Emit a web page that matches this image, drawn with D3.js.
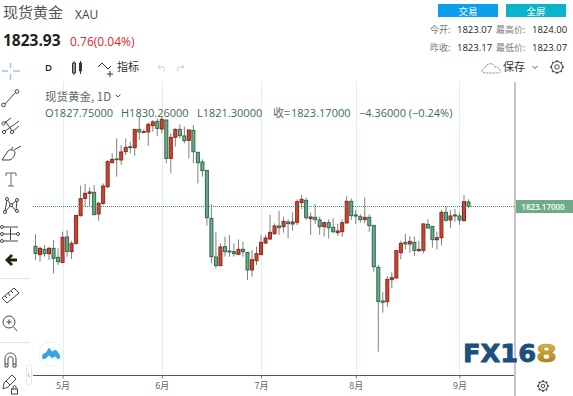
<!DOCTYPE html>
<html>
<head>
<meta charset="utf-8">
<script src="https://cdn.jsdelivr.net/npm/d3@7.9.0/dist/d3.min.js"></script>
<style>
  html, body { margin: 0; padding: 0; background: #fff; overflow: hidden; }
  svg { display: block; }
  text { font-family: "Open Sans", "Noto Sans CJK SC", sans-serif; }
  .cjk { font-family: "Noto Sans CJK SC", sans-serif; }
</style>
</head>
<body>
<svg id="chart" width="573" height="396"></svg>
<script>
// daily candles, colour follows close vs open (red = up)
const opens = [1783.3,1775.0,1780.3,1776.0,1781.3,1772.3,1767.3,1792.7,1778.0,1786.3,1814.0,1831.3,1836.3,1837.3,1815.7,1826.3,1843.0,1867.0,1870.7,1869.7,1878.0,1883.0,1882.0,1900.3,1897.3,1897.7,1904.0,1908.3,1900.7,1909.7,1871.3,1892.3,1900.3,1893.7,1889.3,1899.3,1877.3,1867.7,1859.3,1811.3,1772.7,1764.0,1783.0,1778.7,1778.0,1775.3,1780.3,1777.3,1759.7,1769.0,1775.0,1786.7,1790.7,1796.0,1803.7,1803.0,1807.7,1805.7,1807.3,1827.0,1829.3,1811.0,1812.3,1809.7,1803.0,1807.0,1802.3,1797.0,1798.0,1806.7,1828.3,1814.7,1813.0,1810.0,1812.3,1804.3,1762.3,1728.7,1728.0,1750.0,1751.7,1777.0,1787.3,1785.7,1787.3,1779.0,1779.3,1805.3,1803.3,1790.0,1792.0,1817.3,1809.7,1814.7,1813.7,1809.0,1827.75];
const highs = [1795.3,1783.0,1784.7,1783.0,1789.7,1781.3,1798.0,1799.7,1789.0,1814.3,1843.7,1845.7,1842.3,1844.7,1828.0,1846.3,1869.7,1876.3,1891.3,1884.7,1891.3,1888.0,1900.3,1913.0,1900.3,1907.0,1909.7,1911.3,1913.0,1909.7,1896.3,1901.3,1905.3,1903.0,1900.3,1904.7,1878.0,1870.3,1859.3,1825.3,1798.0,1786.3,1793.0,1794.7,1786.3,1790.3,1788.0,1777.3,1779.7,1783.0,1794.7,1794.7,1814.7,1806.3,1819.0,1813.0,1810.3,1817.3,1830.3,1834.7,1832.3,1817.3,1825.7,1813.0,1808.0,1810.3,1811.3,1805.7,1810.3,1833.7,1831.3,1819.7,1815.7,1832.3,1815.3,1804.3,1764.7,1737.7,1753.7,1757.3,1779.7,1789.0,1795.7,1793.7,1793.0,1788.7,1806.3,1810.3,1803.7,1798.0,1819.7,1823.7,1819.7,1820.7,1817.0,1834.7,1830.26];
const lows = [1769.7,1768.0,1773.0,1769.7,1756.3,1764.7,1766.3,1773.0,1770.7,1784.7,1813.0,1823.0,1823.0,1814.7,1809.0,1824.7,1841.3,1866.3,1853.0,1864.7,1874.7,1876.3,1874.0,1889.7,1896.3,1883.7,1898.0,1893.7,1896.3,1866.3,1856.3,1883.0,1891.3,1886.3,1871.3,1866.3,1846.3,1853.0,1804.0,1766.3,1761.3,1763.7,1773.0,1773.0,1773.0,1774.7,1773.0,1749.7,1753.0,1764.7,1774.7,1785.3,1789.7,1794.7,1794.7,1797.0,1791.3,1799.0,1804.7,1820.7,1809.7,1794.7,1805.7,1794.7,1793.0,1791.0,1796.3,1793.7,1793.0,1806.3,1809.7,1805.7,1807.0,1806.3,1798.0,1758.0,1678.0,1717.0,1723.0,1741.3,1751.3,1770.3,1780.3,1777.0,1773.7,1777.7,1776.3,1801.0,1782.0,1780.3,1784.0,1808.0,1801.3,1808.0,1804.7,1808.7,1821.30];
const closes = [1776.3,1781.3,1776.0,1781.3,1771.3,1768.0,1792.3,1778.3,1786.3,1814.3,1831.0,1836.3,1837.7,1815.0,1826.3,1843.7,1868.0,1870.3,1870.0,1877.7,1882.3,1882.0,1900.3,1897.7,1898.0,1905.3,1907.7,1901.3,1910.3,1871.3,1892.3,1900.3,1894.0,1889.0,1899.7,1878.0,1867.0,1859.0,1812.0,1773.0,1764.0,1782.7,1778.0,1777.7,1776.0,1780.3,1778.0,1759.7,1770.0,1776.0,1787.3,1791.7,1797.3,1803.7,1802.0,1808.3,1806.0,1807.7,1828.0,1830.3,1812.0,1812.7,1810.0,1803.0,1807.0,1802.0,1798.0,1798.7,1807.0,1828.3,1814.0,1813.7,1810.0,1812.3,1804.0,1763.0,1728.3,1727.3,1750.3,1752.0,1779.0,1786.3,1785.7,1788.3,1779.3,1780.3,1805.7,1801.7,1790.0,1792.0,1817.3,1809.3,1813.7,1813.7,1809.7,1828.0,1823.17];

const monthTicks = [6, 28, 50, 71, 94];
const monthLabels = ['5月', '6月', '7月', '8月', '9月'];
const lastClose = 1823.17;
const legendOhlc = ['O1827.75000', 'H1830.26000', 'L1821.30000'];

const svg = d3.select('#chart');

const x = d3.scaleLinear().domain([0, opens.length - 1]).range([35.5, 468.5]);
const y = d3.scaleLinear().domain([1654.67, 1947.67]).range([375, 82]);

const upFill = '#cf4431', upEdge = '#8a2a1b';
const downFill = '#6dab89', downEdge = '#2b6a4b';

// month grid
svg.append('g').selectAll('line').data(monthTicks).join('line')
  .attr('x1', d => Math.round(x(d)) + 0.5).attr('x2', d => Math.round(x(d)) + 0.5)
  .attr('y1', 82).attr('y2', 375)
  .attr('stroke', '#e3edf5');

// candles
const candles = svg.append('g').selectAll('g').data(d3.range(opens.length)).join('g');
candles.append('line')
  .attr('x1', i => x(i)).attr('x2', i => x(i))
  .attr('y1', i => y(highs[i])).attr('y2', i => y(lows[i]))
  .attr('stroke', '#808080');
candles.append('rect')
  .attr('x', i => x(i) - 1.5).attr('width', 3)
  .attr('y', i => y(Math.max(opens[i], closes[i])))
  .attr('height', i => Math.max(0.5, Math.abs(y(opens[i]) - y(closes[i]))))
  .attr('fill', i => closes[i] >= opens[i] ? upFill : downFill)
  .attr('stroke', i => closes[i] >= opens[i] ? upEdge : downEdge);

// last price line and label
svg.append('line')
  .attr('x1', 33).attr('x2', 515)
  .attr('y1', Math.floor(y(lastClose)) + 0.5).attr('y2', Math.floor(y(lastClose)) + 0.5)
  .attr('stroke', '#2f9e66').attr('stroke-dasharray', '1 1');
svg.append('rect')
  .attr('x', 516).attr('y', y(lastClose) - 6.5).attr('width', 57).attr('height', 13)
  .attr('fill', '#6fab88');
svg.append('text')
  .attr('x', 543).attr('y', y(lastClose) + 3).attr('text-anchor', 'middle')
  .attr('font-size', 8).attr('fill', '#fff').attr('font-weight', 600)
  .text(d3.format('.5f')(lastClose));

// time axis
const xAxis = d3.axisBottom(x)
  .tickValues(monthTicks)
  .tickFormat((d, i) => monthLabels[i])
  .tickSize(3).tickPadding(4);
const axisG = svg.append('g').attr('transform', 'translate(0,375.5)').call(xAxis);
axisG.select('.domain').attr('d', 'M33,0H514').attr('stroke', '#555').attr('stroke-width', 1);
axisG.selectAll('.tick line').attr('stroke', '#777');
axisG.selectAll('.tick text').attr('class', 'cjk').attr('font-size', 9).attr('fill', '#666').attr('font-family', null);

// price scale border
svg.append('line').attr('x1', 515).attr('x2', 515).attr('y1', 82).attr('y2', 396)
  .attr('stroke', '#b2b2ba').attr('stroke-width', 1.5);

// header text
function label(tx, ty, str, size, fill, extra) {
  const t = svg.append('text').attr('x', tx).attr('y', ty)
    .attr('font-size', size).attr('fill', fill).text(str);
  if (extra) Object.entries(extra).forEach(([k, v]) => t.attr(k, v));
  return t;
}
label(3, 18, '现货黄金', 15, '#555', {class: 'cjk'});
label(75, 19, 'XAU', 12, '#444');
label(3, 46, '1823.93', 15.5, '#222', {'font-weight': 700});
label(70, 46, '0.76(0.04%)', 12, '#e5252a');
label(45, 71, 'D', 9.5, '#222', {'font-weight': 600});
label(117, 71, '指标', 11, '#333', {class: 'cjk'});

// top right
svg.append('rect').attr('x', 438).attr('y', 4).attr('width', 60).attr('height', 13).attr('fill', '#0b9fec');
svg.append('rect').attr('x', 506).attr('y', 4).attr('width', 60).attr('height', 13).attr('fill', '#0bb4cb');
label(468, 14.5, '交易', 9.5, '#fff', {class: 'cjk', 'text-anchor': 'middle'});
label(536, 14.5, '全屏', 9.5, '#fff', {class: 'cjk', 'text-anchor': 'middle'});
label(430, 33, '今开:', 9, '#777', {class: 'cjk'});
label(457, 33, '1823.07', 9.5, '#222');
label(496, 33, '最高价:', 9, '#777', {class: 'cjk'});
label(532, 33, '1824.00', 9.5, '#222');
label(430, 51, '昨收:', 9, '#777', {class: 'cjk'});
label(457, 51, '1823.17', 9.5, '#222');
label(496, 51, '最低价:', 9, '#777', {class: 'cjk'});
label(532, 51, '1823.07', 9.5, '#222');
label(503, 71, '保存', 11, '#333', {class: 'cjk'});

// legend
label(45, 101, '现货黄金, 1D', 11.5, '#666', {class: 'cjk'});
label(45, 117, legendOhlc[0], 11, '#3b6b53');
label(121, 117, legendOhlc[1], 11, '#3b6b53');
label(197, 117, legendOhlc[2], 11, '#3b6b53');
label(273, 117, '收=', 11, '#666', {class: 'cjk'});
label(291, 117, '1823.17000', 11, '#3b6b53');
label(359, 117, '−4.36000 (−0.24%)', 11, '#3b6b53');

// toolbar icons
function icon(d, opts) {
  const o = Object.assign({fill: 'none', stroke: '#444', w: 1}, opts);
  svg.append('path').attr('d', d).attr('fill', o.fill).attr('stroke', o.stroke).attr('stroke-width', o.w);
}
function dot(cx, cy, r) {
  svg.append('circle').attr('cx', cx).attr('cy', cy).attr('r', r).attr('fill', '#fff').attr('stroke', '#444');
}
icon('M115.5,94.5L118,97L120.5,94.5', {stroke: '#555'}); // legend chevron
icon('M10.5,63V68M10.5,74V80M2,71H8M13,71H20', {stroke: '#8fcaf0', w: 1.5});
icon('M4,105L16,92');
dot(3.5, 105, 1.8);
dot(17, 91.5, 1.8);
icon('M3,124L11,118M4,132L19,121M12,132L19,126M5,121L13,132');
dot(3.5, 123.5, 1.6);
dot(4, 132, 1.6);
dot(12, 132, 1.6);
icon('M2,160L8,151C10,149 14,150 15,152C15,156 12,160 9,160ZM14,150L21,146M11,150L13,147');
icon('M6,176V173H16V176M11,173V186M8,186H14', {stroke: '#666'});
icon('M7,199L5,212L11,205L16,211L17,200L11,205L7,199', {w: 1});
[[7,199],[17,200],[11,205],[5,212],[17,211]].forEach(p => dot(p[0], p[1], 1.5));
icon('M3,227H18M3,234H18M3,241H18M10.5,228V240');
[[2,227],[2,234],[2,241],[18,234]].forEach(p => dot(p[0], p[1], 1.5));
icon('M7,260H17M12,255L7,260L12,265', {stroke: '#f0a243', w: 3.6});
icon('M7,260H17M12,255L7,260L12,265', {stroke: '#0c2233', w: 2.4});
svg.append('line').attr('x1', 0).attr('x2', 30).attr('y1', 278.5).attr('y2', 278.5).attr('stroke', '#dfe3ea');
icon('M2,298L14,288L19,293L7,303ZM5,296L7,298M8,293L10,296M11,291L13,293');
svg.append('circle').attr('cx', 9).attr('cy', 322).attr('r', 6).attr('fill', 'none').attr('stroke', '#444');
icon('M13.5,327L17,331M6.5,322H11.5M9,319.5V324.5');
svg.append('line').attr('x1', 0).attr('x2', 30).attr('y1', 342.5).attr('y2', 342.5).attr('stroke', '#dfe3ea');
icon('M5,367V359C5,351 16,351 16,359V367H13V359C13,356 8,356 8,359V367ZM5,364H8M13,364H16');
icon('M3,389L4,383L12,375L16,379L8,387ZM6,381L10,385');
svg.append('rect').attr('x', 11.5).attr('y', 389).attr('width', 6).attr('height', 5).attr('fill', '#fff').attr('stroke', '#444');
icon('M13,389V387C13,385 16,385 16,387V389');

// cloud badge + collapse handle
svg.append('circle').attr('cx', 51).attr('cy', 354).attr('r', 12).attr('fill', '#fff').attr('stroke', '#eef0f3');
icon('M43,359C41,355 44,353 46,353L49,348L52,352L55,350C57,351 58,352 58,353C60,354 61,359 58,359L55,356L52,358L49,355L46,358Z', {fill: '#35a5e8', stroke: '#35a5e8', w: 0.6});
svg.append('rect').attr('x', 26.5).attr('y', 365).attr('width', 5).attr('height', 20).attr('rx', 2.5).attr('fill', '#fff').attr('stroke', '#e6e8ec');
icon('M29.5,373L28,375L29.5,377', {stroke: '#9bb'});

// top bar icons
icon('M72.5,63V73H75.5V63ZM74,61V75M79.5,63V71H81.5V63ZM80.5,61V74', {stroke: '#333'});
icon('M98,67L102,63L108,69L111,66M110,71V77M107,74H113', {stroke: '#333'});
icon('M158,67H163C165,67 165,71 163,71M158,67L160,65M158,67L160,69', {stroke: '#c8ccd0'});
icon('M184,67H179C177,67 177,71 179,71M184,67L182,65M184,67L182,69', {stroke: '#c8ccd0'});
svg.append('path').attr('d', 'M485,73C481,73 481,68 485,68C486,63 494,62 495,67C500,66 502,73 498,73Z')
  .attr('fill', 'none').attr('stroke', '#888').attr('stroke-dasharray', '2 1');
icon('M532.5,66L535,68.5L537.5,66', {stroke: '#555'});

// gears
function gear(cx, cy, r) {
  const g = svg.append('g').attr('transform', `translate(${cx},${cy})`);
  g.append('circle').attr('r', r).attr('fill', 'none').attr('stroke', '#444').attr('stroke-width', 1);
  g.append('circle').attr('r', r * 0.4).attr('fill', 'none').attr('stroke', '#444');
  g.selectAll('line').data(d3.range(8)).join('line')
    .attr('x1', 0).attr('x2', 0).attr('y1', r).attr('y2', r + 1.5)
    .attr('stroke', '#444').attr('stroke-width', 1.4)
    .attr('transform', d => `rotate(${d * 45})`);
}
gear(557, 67, 5.5);
gear(543, 386, 4.5);

// watermark
const grad = svg.append('defs').append('linearGradient').attr('id', 'goldEight').attr('x1', 0).attr('x2', 0).attr('y1', 0).attr('y2', 1);
grad.append('stop').attr('offset', '0%').attr('stop-color', '#d9b65a');
grad.append('stop').attr('offset', '55%').attr('stop-color', '#c39a2b');
grad.append('stop').attr('offset', '100%').attr('stop-color', '#8a6a1c');
label(463, 362, 'FX16', 24, '#1c4f7d', {'font-weight': 700, style: 'font-family:"DejaVu Sans"', textLength: 73, lengthAdjust: 'spacingAndGlyphs', stroke: '#1c4f7d', 'stroke-width': 0.8});
label(536, 362, '8', 24, 'url(#goldEight)', {'font-weight': 700, style: 'font-family:"DejaVu Sans"', textLength: 21, lengthAdjust: 'spacingAndGlyphs', stroke: '#b98f28', 'stroke-width': 0.6});
</script>
</body>
</html>
